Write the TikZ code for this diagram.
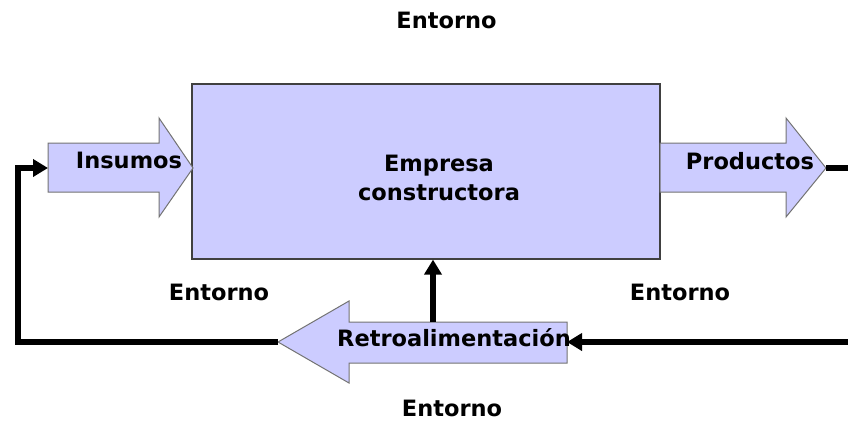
\documentclass[tikz,border=0pt]{standalone}
\usepackage{fontspec}
\setmainfont{DejaVu Sans}
\usepackage{xcolor}
\usetikzlibrary{arrows.meta}
\definecolor{lila}{HTML}{CCCCFF}

\begin{document}
\begin{tikzpicture}[x=1pt,y=-1pt,>={Triangle[length=15pt,width=17pt]},
    font=\fontsize{22.5}{28.3}\selectfont\bfseries,
    lbl/.style={inner sep=0pt,anchor=base},
    flow/.style={line width=5.5pt,black},
    shapeline/.style={draw=black!55,line width=1pt,fill=lila}]
      \useasboundingbox (0,0) rectangle (848,424);
      % main box
      \node (empresa) [draw=black!75,line width=1.2pt,fill=lila,minimum width=468pt,minimum height=175pt,inner sep=0pt] at (426,171.5) {};
      \node (empresatxt) [lbl,align=center] at (439,200) {Empresa\\constructora};% base = last line
      % input arrow
      \draw [shapeline] (48,143) -- (159,143) -- (159,118) -- (193,168) -- (159,217) -- (159,192) -- (48,192) -- cycle;
      \coordinate (insumostail) at (48,168);
      \node (insumos) [lbl] at (129,168.3) {Insumos};
      % output arrow
      \draw [shapeline] (660,143) -- (786,143) -- (786,118) -- (826,168) -- (786,217) -- (786,192) -- (660,192) -- cycle;
      \coordinate (productostip) at (826,168);
      \node (productos) [lbl] at (750,169) {Productos};
      % feedback arrow
      \draw [shapeline] (567,322) -- (349,322) -- (349,301) -- (278,342) -- (349,383) -- (349,363) -- (567,363) -- cycle;
      \coordinate (retrotip) at (278,342);
      \coordinate (retrotail) at (567,342);
      \coordinate (retrotop) at (433,322);
      \node (retro) [lbl,anchor=base west] at (337,346.7) {Retroalimentación};
      % loops
      \coordinate (rightcorner) at (858,168);
      \coordinate (leftcorner) at (18,342);
      \draw [flow,->] (productostip) -- (rightcorner) |- (retrotail);
      \draw [flow,->] (retrotip) -- (leftcorner) |- (insumostail);
      \draw [flow,->] (retrotop) -- (retrotop |- empresa.south);
      % environment
      \node (entornoN) [lbl] at (446.5,28.3) {Entorno};
      \node (entornoW) [lbl] at (219,300.7) {Entorno};
      \node (entornoE) [lbl] at (680,300.7) {Entorno};
      \node (entornoS) [lbl] at (452,416.7) {Entorno};
    \end{tikzpicture}
\end{document}
